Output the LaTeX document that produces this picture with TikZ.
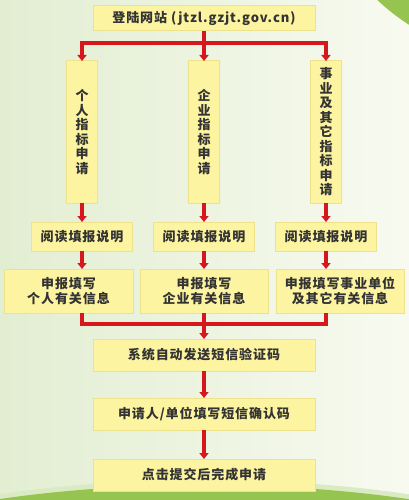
\documentclass[tikz,border=0pt]{standalone}
\usepackage{fontspec}
\setmainfont{Noto Sans CJK SC}[LetterSpace=7]
\usetikzlibrary{positioning,arrows.meta}
\definecolor{boxyellow}{RGB}{252, 244, 160}
\definecolor{boxedge}{RGB}{238, 226, 140}
\definecolor{flowred}{RGB}{214, 24, 30}
\definecolor{leafgreen}{RGB}{150, 196, 80}
\definecolor{paleleft}{RGB}{226, 238, 210}
\definecolor{paleright}{RGB}{248, 250, 240}

\begin{document}
\begin{tikzpicture}[
    x=1pt, y=-1pt,
    box/.style={rectangle, draw=boxedge, line width=1pt, fill=boxyellow, inner sep=0pt, outer sep=0pt, align=center, font=\bfseries\fontsize{13}{15.5}\selectfont, text=black!80},
    wide/.style={box, minimum width=222pt, minimum height=30pt},
    column/.style={box, minimum width=31pt, minimum height=142pt, font=\bfseries\fontsize{13}{14.5}\selectfont},
    redline/.style={flowred, line width=3.2pt},
    arrow/.style={redline, -{Triangle[width=9pt,length=6pt]}}
  ]
    % background
    \useasboundingbox (0,0) rectangle (409,500);
    \shade[left color=paleleft, right color=paleright] (0,0) rectangle (409,500);
    \fill[leafgreen!35] (204,630) ellipse [x radius=480pt, y radius=150pt];
    \fill[leafgreen] (204,622) ellipse [x radius=463pt, y radius=137pt];
    \fill[leafgreen] (520,-150) circle [radius=207pt];

    \node[wide, minimum height=25pt] at (204, 18.5) (site) {登陆网站 (jtzl.gzjt.gov.cn)};

    \node[column] at (82, 132)  (col1) {个\\人\\指\\标\\申\\请};
    \node[column] at (204, 132) (col2) {企\\业\\指\\标\\申\\请};
    \node[column] at (326, 132) (col3) {事\\业\\及\\其\\它\\指\\标\\申\\请};

    \node[box, minimum width=101pt, minimum height=29pt] at (82, 236.5)  (read1) {阅读填报说明};
    \node[box, minimum width=101pt, minimum height=29pt] at (204, 236.5) (read2) {阅读填报说明};
    \node[box, minimum width=101pt, minimum height=29pt] at (326, 236.5) (read3) {阅读填报说明};

    \node[box, minimum width=129pt, minimum height=44pt] at (68.5, 291) (fill1) {申报填写\\个人有关信息};
    \node[box, minimum width=128pt, minimum height=44pt] at (204, 291)  (fill2) {申报填写\\企业有关信息};
    \node[box, minimum width=128pt, minimum height=44pt] at (340, 291)  (fill3) {申报填写事业单位\\及其它有关信息};

    \node[wide, minimum height=32pt] at (204, 355) (sms)     {系统自动发送短信验证码};
    \node[wide, minimum height=32pt] at (204, 414) (confirm) {申请人/单位填写短信确认码};
    \node[wide, minimum height=32pt] at (204, 475) (done)    {点击提交后完成申请};

    % split
    \draw[redline] (site.south) -- ++(0,12) coordinate (split);
    \draw[redline, line cap=rect] (split -| col1) -- (split -| col3);
    \draw[arrow] (split -| col1) -- (col1.north);
    \draw[arrow] (split) -- (col2.north);
    \draw[arrow] (split -| col3) -- (col3.north);

    \draw[arrow] (col1) -- (read1);
    \draw[arrow] (col2) -- (read2);
    \draw[arrow] (col3) -- (read3);

    \draw[arrow] (read1.south) -- (read1.south |- fill1.north);
    \draw[arrow] (read2) -- (fill2);
    \draw[arrow] (read3.south) -- (read3.south |- fill3.north);

    % merge
    \coordinate (merge) at (204, 324);
    \draw[redline] (fill1.south -| col1) -- (merge -| col1);
    \draw[redline] (fill2.south) -- (merge);
    \draw[redline] (fill3.south -| col3) -- (merge -| col3);
    \draw[redline, line cap=rect] (merge -| col1) -- (merge -| col3);
    \draw[arrow] (merge) -- (sms.north);

    \draw[arrow] (sms) -- (confirm);
    \draw[arrow] (confirm) -- (done);
  \end{tikzpicture}
\end{document}
